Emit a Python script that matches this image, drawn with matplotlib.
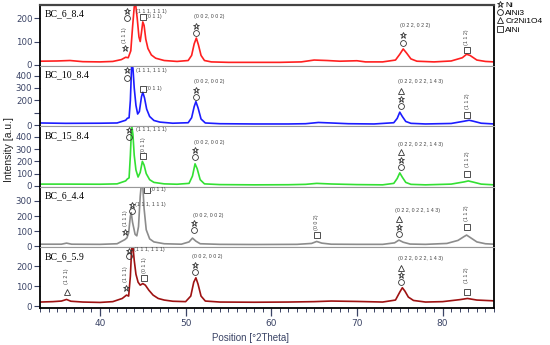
import matplotlib
matplotlib.use("Agg")
import matplotlib.pyplot as plt
import matplotlib.transforms as mtransforms
from matplotlib.lines import Line2D
from matplotlib.ticker import MultipleLocator

# sample names, top to bottom
names = ["BC_6_8.4", "BC_10_8.4", "BC_15_8.4", "BC_6_4.4", "BC_6_5.9"]

# position [deg 2theta] / intensity pairs
red_x = [33, 35, 36.5, 38, 40, 41.5, 42.5, 43.0, 43.3, 43.6, 43.8, 44.0, 44.15, 44.35, 44.55, 44.7,
         44.85, 45.0, 45.15, 45.35, 45.6, 46.0, 46.5, 47.5, 49, 50.3, 50.7, 51.0, 51.25, 51.5, 51.8,
         52.2, 53, 55, 58, 61, 63.5, 65, 66.5, 68, 70, 71, 73, 74.5, 75.0, 75.4, 75.8, 76.3, 77, 79,
         81, 82.3, 82.8, 83.2, 84, 85, 86]
red_y = [15, 16, 18, 13, 12, 14, 22, 32, 30, 60, 160, 250, 265, 200, 120, 100,
         140, 185, 170, 110, 70, 42, 28, 18, 14, 18, 40, 90, 115, 85, 40,
         18, 12, 10, 10, 10, 12, 20, 18, 15, 17, 12, 12, 20, 45, 68, 50, 25, 15, 12,
         16, 30, 45, 40, 20, 14, 12]

blue_x = [33, 36, 40, 42, 43.0, 43.2, 43.4, 43.55, 43.7, 43.85, 44.0, 44.2, 44.4, 44.6, 44.85, 45.0,
          45.2, 45.45, 45.8, 46.3, 47, 48.5, 50.3, 50.7, 51.0, 51.2, 51.45, 51.8, 52.3, 54, 58, 62,
          64, 65.5, 67, 69, 72, 74.3, 74.7, 75.0, 75.3, 75.7, 76.3, 78, 81, 82.5, 83.1, 83.6, 84.5, 86]
blue_y = [18, 15, 16, 18, 40, 56, 60, 200, 490, 460, 300, 160, 90, 110, 230, 265,
          220, 130, 70, 38, 25, 16, 20, 60, 150, 190, 140, 50, 18, 12, 10, 10,
          12, 22, 18, 12, 10, 20, 55, 105, 70, 30, 15, 10, 14, 32, 40, 32, 16, 10]

green_x = [33, 36, 40, 42, 43.0, 43.2, 43.4, 43.55, 43.7, 43.85, 44.0, 44.2, 44.45, 44.7, 44.95, 45.15,
           45.4, 45.8, 46.3, 47.5, 49, 50.4, 50.8, 51.1, 51.35, 51.7, 52.2, 54, 58, 62, 64, 65.3,
           67, 70, 73, 74.3, 74.7, 75.0, 75.3, 75.7, 76.3, 78, 81, 82.5, 83.0, 83.6, 84.5, 86]
green_y = [14, 14, 13, 16, 40, 56, 65, 250, 500, 420, 250, 130, 72, 110, 200, 170,
           100, 50, 28, 16, 13, 20, 80, 180, 140, 50, 16, 10, 8, 9, 12, 20,
           15, 10, 8, 20, 60, 106, 70, 28, 12, 8, 14, 32, 40, 30, 14, 8]

gray_x = [33, 35.5, 36.1, 36.7, 40, 42, 42.9, 43.15, 43.35, 43.55, 43.65, 43.8, 44.1, 44.3, 44.5, 44.7,
          44.85, 45.0, 45.15, 45.4, 45.8, 46.3, 47.5, 49.5, 50.4, 50.8, 51.2, 51.7, 54, 58, 63, 64.7,
          65.3, 65.9, 67, 70, 73, 74.4, 74.9, 75.4, 76.2, 78, 80.5, 81.8, 82.5, 82.8, 83.2, 84, 85, 86]
gray_y = [15, 15, 22, 15, 14, 18, 45, 57, 90, 200, 222, 160, 80, 70, 130, 330,
          420, 400, 250, 110, 50, 30, 18, 15, 30, 55, 35, 18, 14, 13, 14, 20,
          33, 22, 15, 14, 14, 24, 42, 28, 16, 14, 20, 40, 65, 75, 60, 30, 18, 15]

dred_x = [33, 34.5, 35.5, 36.1, 36.6, 38, 40, 41.5, 42.6, 43.1, 43.35, 43.55, 43.7, 43.85, 44.0, 44.2,
          44.45, 44.7, 45.0, 45.3, 45.7, 46.2, 46.8, 47.5, 48.5, 50, 50.6, 50.95, 51.2, 51.45, 51.8,
          52.3, 54, 58, 62, 65, 67, 70, 73, 74.5, 75.0, 75.3, 75.6, 76.0, 76.6, 78, 80, 82, 82.9, 84, 86]
dred_y = [20, 22, 25, 33, 24, 20, 18, 22, 38, 55, 50, 150, 290, 300, 230, 160,
          120, 105, 113, 105, 80, 55, 38, 30, 24, 22, 50, 120, 142, 110, 50,
          25, 20, 19, 20, 22, 25, 23, 20, 30, 70, 92, 75, 45, 28, 20, 22, 32, 38, 30, 26]

series_x = [red_x, blue_x, green_x, gray_x, dred_x]
series_y = [red_y, blue_y, green_y, gray_y, dred_y]
colors = ["#ff2020", "#1c1cff", "#33e033", "#8c8c8c", "#9e1212"]
ylims = [(-4, 258), (-8, 480), (-8, 488), (-6, 392), (-10, 295)]
yticks = [[0, 100, 200], [0, 100, 200, 300, 400], [0, 100, 200, 300, 400], [0, 100, 200, 300], [0, 100, 200]]
ytick_labels = [["0", "100", "200"], ["0", "", "200", "300", "400"], ["0", "100", "200", "300", "400"],
                ["0", "100", "200", "300"], ["0", "100", "200"]]

# phase symbols drawn as hollow markers
S, C, T, Q = "*", "o", "^", "s"
msize = {"*": 5.0, "o": 4.2, "^": 4.5, "s": 4.0}

# phase marks: (kind, x, y as axes fraction, text/marker)
marks = [
    [("s", 43.1, 0.90, S), ("s", 43.1, 0.79, C), ("t", 44.2, 0.90, "(1 1 1, 1 1 1)"),
     ("s", 45.0, 0.81, Q), ("t", 45.35, 0.81, "(0 1 1)"), ("v", 42.9, 0.50, "(1 1 1)"), ("s", 42.9, 0.285, S),
     ("t", 51.0, 0.81, "(0 0 2, 0 0 2)"), ("s", 51.26, 0.66, S), ("s", 51.26, 0.54, C),
     ("t", 75.0, 0.66, "(0 2 2, 0 2 2)"), ("s", 75.35, 0.51, S), ("s", 75.35, 0.37, C),
     ("v", 82.8, 0.47, "(1 1 2)"), ("s", 82.8, 0.26, Q)],
    [("s", 43.1, 0.92, S), ("s", 43.1, 0.80, C), ("t", 44.2, 0.92, "(1 1 1, 1 1 1)"),
     ("s", 44.97, 0.62, Q), ("t", 45.35, 0.62, "(0 1 1)"),
     ("t", 51.0, 0.74, "(0 0 2, 0 0 2)"), ("s", 51.2, 0.59, S), ("s", 51.2, 0.48, C),
     ("t", 74.8, 0.73, "(0 2 2, 0 2 2, 1 4 3)"), ("s", 75.1, 0.58, T), ("s", 75.1, 0.45, S), ("s", 75.1, 0.33, C),
     ("v", 82.85, 0.41, "(1 1 2)"), ("s", 82.85, 0.19, Q)],
    [("s", 43.4, 0.94, S), ("s", 43.4, 0.83, C), ("t", 44.2, 0.94, "(1 1 1, 1 1 1)"),
     ("v", 45.07, 0.68, "(0 1 1)"), ("s", 45.07, 0.51, Q),
     ("t", 50.95, 0.73, "(0 0 2, 0 0 2)"), ("s", 51.1, 0.61, S), ("s", 51.1, 0.50, C),
     ("t", 74.8, 0.705, "(0 2 2, 0 2 2, 1 4 3)"), ("s", 75.1, 0.57, T), ("s", 75.1, 0.44, S), ("s", 75.1, 0.32, C),
     ("v", 82.9, 0.45, "(1 1 2)"), ("s", 82.9, 0.21, Q)],
    [("s", 45.44, 0.955, Q), ("t", 45.8, 0.955, "(0 1 1)"),
     ("s", 43.73, 0.705, S), ("s", 43.73, 0.60, C), ("t", 44.1, 0.705, "(1 1 1, 1 1 1)"),
     ("v", 42.95, 0.49, "(1 1 1)"), ("s", 42.95, 0.25, S),
     ("t", 50.9, 0.53, "(0 0 2, 0 0 2)"), ("s", 51.0, 0.40, S), ("s", 51.0, 0.28, C),
     ("v", 65.33, 0.42, "(0 0 2)"), ("s", 65.33, 0.20, Q),
     ("t", 74.46, 0.61, "(0 2 2, 0 2 2, 1 4 3)"), ("s", 74.9, 0.47, T), ("s", 74.9, 0.335, S), ("s", 74.9, 0.226, C),
     ("v", 82.8, 0.56, "(1 1 2)"), ("s", 82.8, 0.33, Q)],
    [("s", 43.4, 0.946, S), ("s", 43.4, 0.85, C), ("t", 44.0, 0.965, "(1 1 1, 1 1 1)"),
     ("v", 43.03, 0.55, "(1 1 1)"), ("s", 43.03, 0.325, S),
     ("v", 45.16, 0.71, "(0 1 1)"), ("s", 45.16, 0.49, Q),
     ("v", 36.12, 0.53, "(1 2 1)"), ("s", 36.12, 0.27, T),
     ("t", 50.8, 0.847, "(0 0 2, 0 0 2)"), ("s", 51.06, 0.71, S), ("s", 51.06, 0.60, C),
     ("t", 74.84, 0.82, "(0 2 2, 0 2 2, 1 4 3)"), ("s", 75.1, 0.665, T), ("s", 75.1, 0.545, S), ("s", 75.1, 0.434, C),
     ("v", 82.8, 0.545, "(1 1 2)"), ("s", 82.8, 0.27, Q)],
]

tick_col = "#3b4466"
mark_col = "#333333"
fig, axes = plt.subplots(5, 1, sharex=True, figsize=(5.5, 3.45), dpi=100)
fig.subplots_adjust(left=40 / 550, right=494 / 550, top=1 - 5 / 345, bottom=1 - 308 / 345, hspace=0)

for i, ax in enumerate(axes):
    ax.plot(series_x[i], series_y[i], color=colors[i], lw=1.2)
    ax.set_xlim(33, 86)
    ax.set_ylim(*ylims[i])
    ax.set_yticks(yticks[i])
    ax.set_yticklabels(ytick_labels[i])
    ax.tick_params(axis="y", direction="out", length=4, width=0.8, pad=1.5,
                   labelsize=6.2, colors=tick_col)
    for side in ["left", "right"]:
        ax.spines[side].set_color("black")
        ax.spines[side].set_linewidth(1.3)
    ax.spines["top"].set_color("#999999")
    ax.spines["top"].set_linewidth(0.8)
    ax.spines["bottom"].set_color("#999999")
    ax.spines["bottom"].set_linewidth(0.8)
    if i < 4:
        ax.tick_params(axis="x", bottom=False, labelbottom=False)
    trans = mtransforms.blended_transform_factory(ax.transData, ax.transAxes)
    ax.text(33.6, 0.85, names[i], transform=trans, fontsize=7, family="Liberation Serif",
            va="center", ha="left")
    for kind, x, yf, s in marks[i]:
        if kind == "s":
            ax.plot([x], [yf], transform=trans, marker=s, ms=msize[s], mfc="none",
                    mec=mark_col, mew=0.6, ls="none", clip_on=False)
        elif kind == "t":
            ax.text(x, yf, s, transform=trans, fontsize=3.8, ha="left", va="center",
                    color="#444444", family="Liberation Sans")
        else:
            ax.text(x, yf, s, transform=trans, fontsize=3.8, ha="center", va="center",
                    rotation=90, color="#444444", family="Liberation Sans")

axes[0].spines["top"].set_color("#444444")
axes[0].spines["top"].set_linewidth(1.6)
axes[-1].spines["bottom"].set_color("black")
axes[-1].spines["bottom"].set_linewidth(1.3)
axes[-1].xaxis.set_major_locator(MultipleLocator(10))
axes[-1].xaxis.set_minor_locator(MultipleLocator(1))
axes[-1].tick_params(axis="x", which="major", direction="out", length=6, width=0.9,
                     labelsize=6.5, colors=tick_col, pad=2)
axes[-1].tick_params(axis="x", which="minor", direction="out", length=3, width=0.7, colors=tick_col)

fig.text(9 / 550, 1 - 150 / 345, "Intensity [a.u.]", rotation=90, ha="center", va="center",
         fontsize=7.5, family="Liberation Sans", color="#222222")
fig.text(250 / 550, 1 - 338 / 345, "Position [\u00b02Theta]", ha="center", va="center",
         fontsize=7, family="Liberation Sans", color=tick_col)

legend_labels = ["Ni", "AlNi3", "Cr2Ni1O4", "AlNi"]
legend_markers = [S, C, T, Q]
handles = [Line2D([], [], ls="none", marker=m, ms=msize[m], mfc="none", mec="#222222", mew=0.6)
           for m in legend_markers]
fig.legend(handles, legend_labels, loc="upper left", bbox_to_anchor=(497 / 550, 1 - 1 / 345),
           frameon=False, labelspacing=0.05, handlelength=0.6, handletextpad=0.4,
           borderpad=0, borderaxespad=0, prop={"family": "Liberation Sans", "size": 6})

fig.savefig("out.png", dpi=100)
